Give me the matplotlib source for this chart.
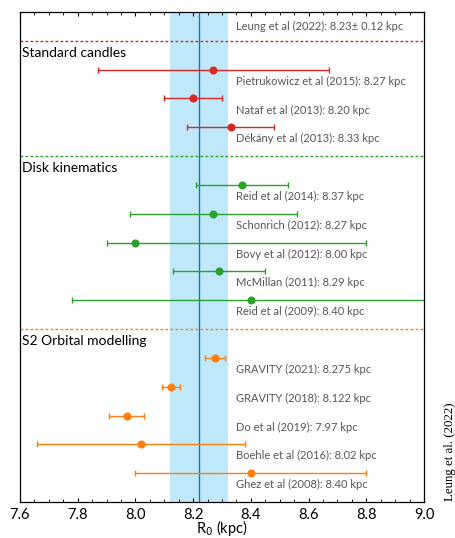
import matplotlib
matplotlib.use("Agg")
import matplotlib.pyplot as plt
from matplotlib.ticker import MultipleLocator

# ---------------- data ----------------
groups = ["Standard candles", "Disk kinematics", "S2 Orbital modelling"]
group_colors = ["#d62728", "#2ca02c", "#ff7f0e"]

labels = [
    "Pietrukowicz et al (2015): 8.27 kpc",
    "Nataf et al (2013): 8.20 kpc",
    "Dékány et al (2013): 8.33 kpc",
    "Reid et al (2014): 8.37 kpc",
    "Schonrich (2012): 8.27 kpc",
    "Bovy et al (2012): 8.00 kpc",
    "McMillan (2011): 8.29 kpc",
    "Reid et al (2009): 8.40 kpc",
    "GRAVITY (2021): 8.275 kpc",
    "GRAVITY (2018): 8.122 kpc",
    "Do et al (2019): 7.97 kpc",
    "Boehle et al (2016): 8.02 kpc",
    "Ghez et al (2008): 8.40 kpc",
]
group_of = [0, 0, 0, 1, 1, 1, 1, 1, 2, 2, 2, 2, 2]
r0 = [8.27, 8.20, 8.33, 8.37, 8.27, 8.00, 8.29, 8.40, 8.275, 8.122, 7.97, 8.02, 8.40]
err_lo = [0.40, 0.10, 0.15, 0.16, 0.29, 0.10, 0.16, 0.62, 0.034, 0.031, 0.06, 0.36, 0.40]
err_hi = [0.40, 0.10, 0.15, 0.16, 0.29, 0.80, 0.16, 0.62, 0.034, 0.031, 0.06, 0.36, 0.40]

leung_label = "Leung et al (2022): 8.23± 0.12 kpc"
leung_center = 8.22
leung_lo = 8.12
leung_hi = 8.32

# ---------------- layout ----------------
W, H = 456, 538
fig = plt.figure(figsize=(W / 100, H / 100), dpi=100)
ax = fig.add_axes([20 / W, (H - 502) / H, 404 / W, 490 / H])

font = "Lato"
text_grey = "#575757"

# compute rows: gap of one row between groups
rows = []
r = 0
prev = group_of[0]
first_rows = {prev: 0}
for i, g in enumerate(group_of):
    if g != prev:
        r += 1
        first_rows[g] = r
        prev = g
    rows.append(r)
    r += 1
n_total = r

ax.axvspan(leung_lo, leung_hi, color="#bfe9fb", zorder=0, lw=0)
ax.axvline(leung_center, color="#1f6fb5", lw=1.0, zorder=1)

for i in range(len(r0)):
    c = group_colors[group_of[i]]
    ax.errorbar(r0[i], rows[i], xerr=[[err_lo[i]], [err_hi[i]]], fmt="o",
                color=c, ecolor=c, elinewidth=1.0, capsize=2.2, capthick=1.0,
                markersize=4.8, zorder=3, clip_on=True)
    ax.text(8.35, rows[i] + 0.40, labels[i], fontsize=8.0, color=text_grey,
            family=font, va="center", ha="left")

for g, fr in first_rows.items():
    ax.axhline(fr - 1, color=group_colors[g], lw=1.0, ls=(0, (2.0, 1.6)), zorder=2)
    ax.text(0.006, fr - 0.58, groups[g], transform=ax.get_yaxis_transform(),
            fontsize=10, color="black", family=font, va="center", ha="left")

ax.text(8.35, -1.51, leung_label, fontsize=8.0, color=text_grey,
        family=font, va="center", ha="left")

ax.set_xlim(7.6, 9.0)
ax.set_ylim(n_total, -2)
ax.set_yticks([])
ax.xaxis.set_major_locator(MultipleLocator(0.2))
ax.xaxis.set_minor_locator(MultipleLocator(0.05))
ax.tick_params(axis="x", which="both", direction="in", top=True, bottom=True,
               labelsize=10.5, pad=4)
ax.tick_params(axis="x", which="major", length=3, width=0.8)
ax.tick_params(axis="x", which="minor", length=2, width=0.6)
for lab in ax.get_xticklabels():
    lab.set_family(font)
for s in ax.spines.values():
    s.set_linewidth(0.9)

ax.set_xlabel("R$_0$ (kpc)", fontsize=10.5, family=font)
ax.xaxis.label.set_va("center")
ax.xaxis.set_label_coords(0.5, -(528 - 502) / 490)

fig.text(450 / W, 1 - 452 / H, "Leung et al. (2022)", rotation=90,
         family="Liberation Serif", fontsize=9.3, va="center", ha="center")

fig.savefig("out.png", dpi=100)
